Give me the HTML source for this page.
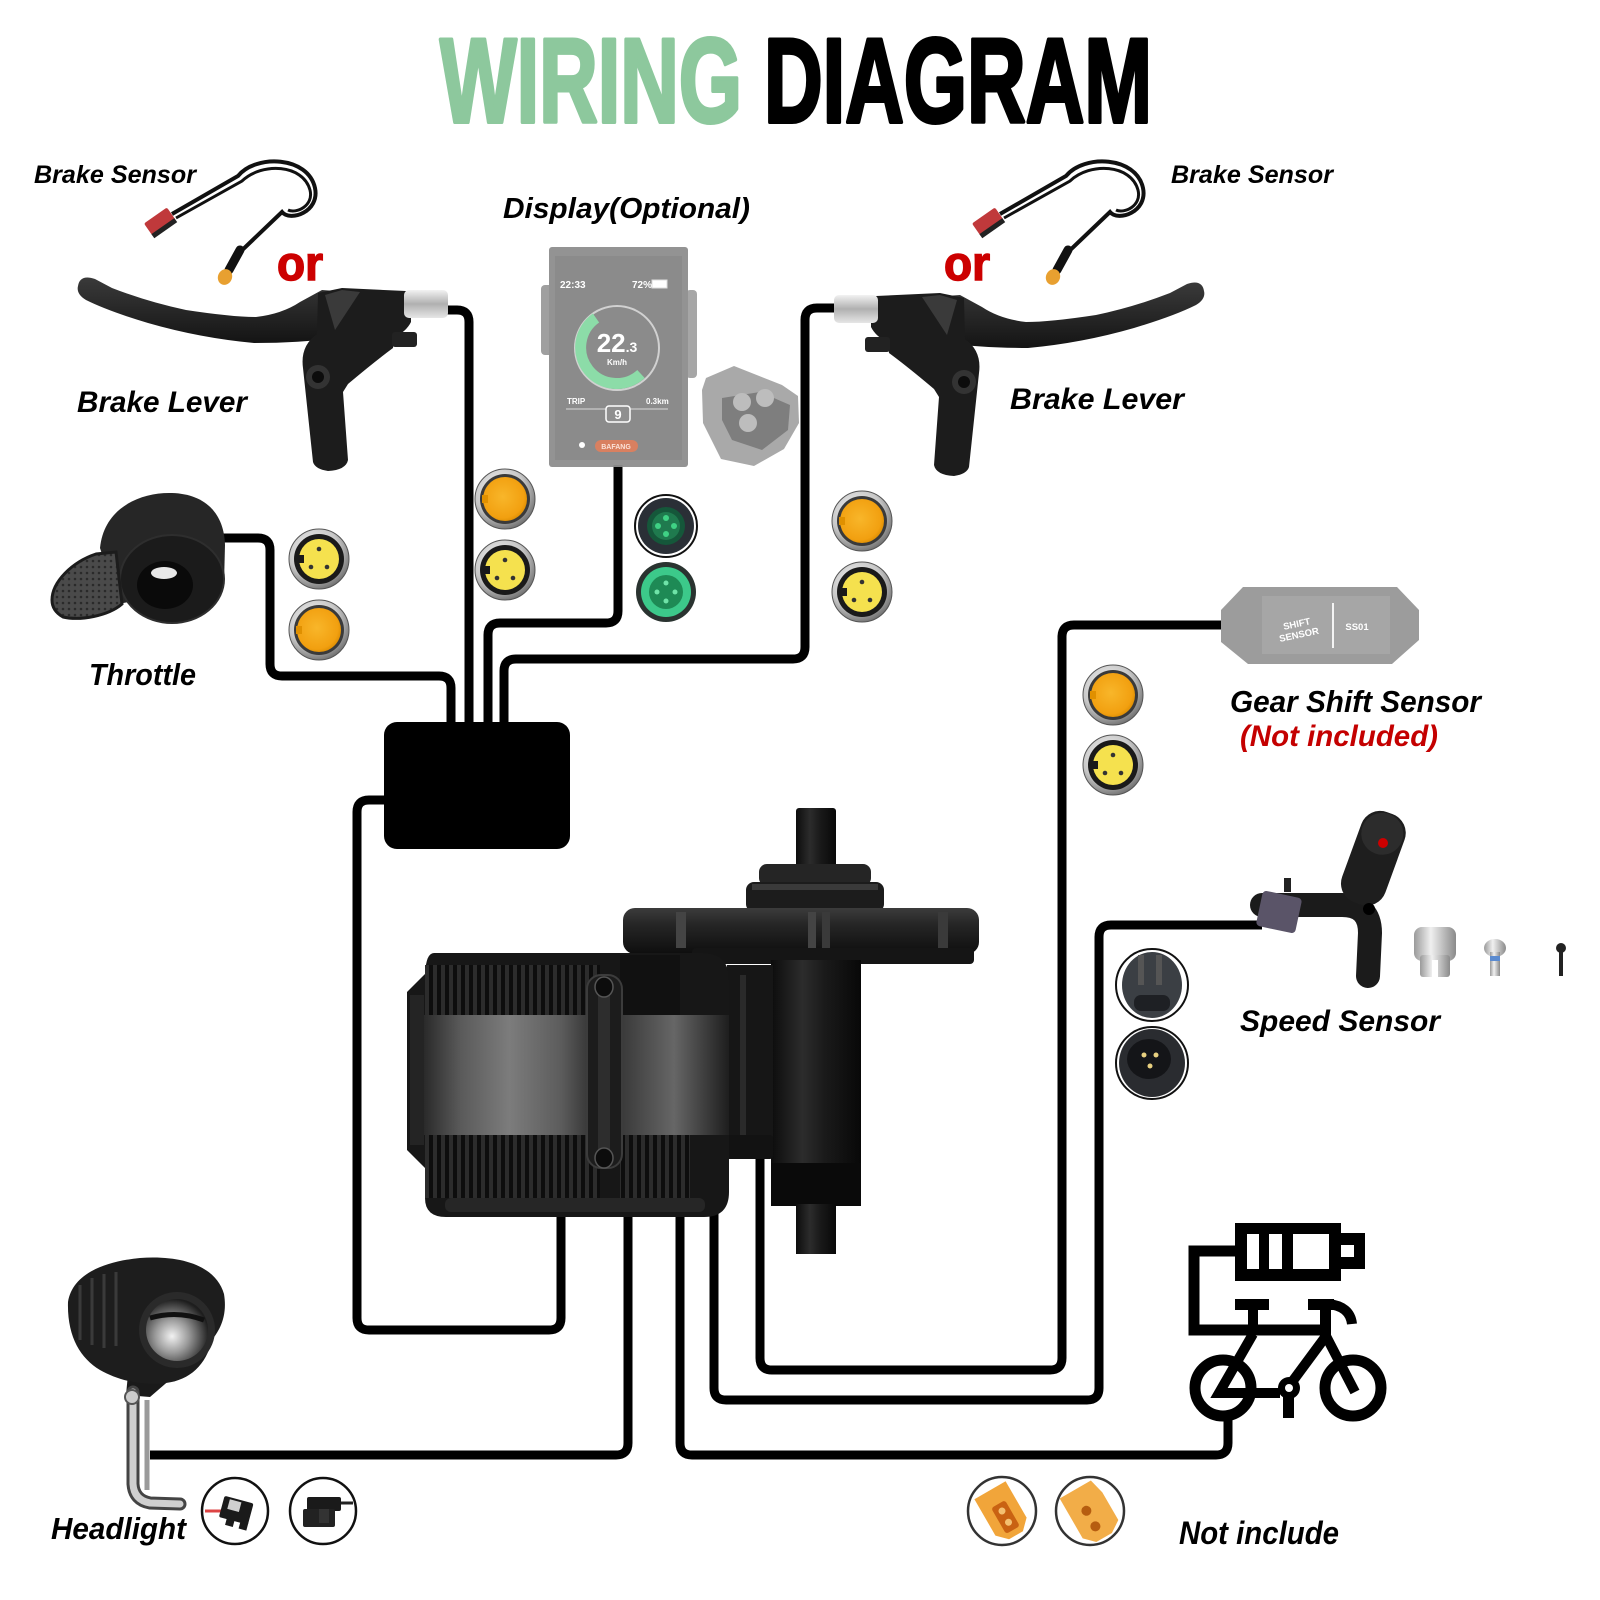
<!DOCTYPE html>
<html>
<head>
<meta charset="utf-8">
<style>
  html,body{margin:0;padding:0;background:#fff;}
  svg{display:block;}
  .lbl{font-family:"Liberation Sans",Arial,sans-serif;font-weight:bold;font-style:italic;}
  .ttl{font-family:"Liberation Sans",Arial,sans-serif;font-weight:bold;}
</style>
</head>
<body>
<svg width="1600" height="1600" viewBox="0 0 1600 1600" xmlns="http://www.w3.org/2000/svg" xmlns:xlink="http://www.w3.org/1999/xlink">
<defs>
  <radialGradient id="silverR" cx="0.4" cy="0.35" r="0.7">
    <stop offset="0" stop-color="#f4f4f4"/>
    <stop offset="0.6" stop-color="#c8c8c8"/>
    <stop offset="1" stop-color="#6a6a6a"/>
  </radialGradient>
  <radialGradient id="orangeR" cx="0.45" cy="0.45" r="0.6">
    <stop offset="0" stop-color="#f8b62a"/>
    <stop offset="0.8" stop-color="#f2a010"/>
    <stop offset="1" stop-color="#d88a00"/>
  </radialGradient>
  <linearGradient id="silverL" x1="0" y1="0" x2="0" y2="1">
    <stop offset="0" stop-color="#f2f2f2"/>
    <stop offset="0.5" stop-color="#b0b0b0"/>
    <stop offset="1" stop-color="#e6e6e6"/>
  </linearGradient>
  <linearGradient id="silverH" x1="0" y1="0" x2="1" y2="0">
    <stop offset="0" stop-color="#9a9a9a"/>
    <stop offset="0.4" stop-color="#f0f0f0"/>
    <stop offset="1" stop-color="#8a8a8a"/>
  </linearGradient>
  <linearGradient id="band" x1="424" y1="0" x2="729" y2="0" gradientUnits="userSpaceOnUse">
    <stop offset="0" stop-color="#2a2a2a"/>
    <stop offset="0.12" stop-color="#5a5a5a"/>
    <stop offset="0.28" stop-color="#7c7c7c"/>
    <stop offset="0.45" stop-color="#5c5c5c"/>
    <stop offset="0.55" stop-color="#333"/>
    <stop offset="0.65" stop-color="#3a3a3a"/>
    <stop offset="0.82" stop-color="#666"/>
    <stop offset="1" stop-color="#1e1e1e"/>
  </linearGradient>
  <linearGradient id="shaftG" x1="0" y1="0" x2="1" y2="0">
    <stop offset="0" stop-color="#0c0c0c"/>
    <stop offset="0.35" stop-color="#2c2c2c"/>
    <stop offset="0.6" stop-color="#1a1a1a"/>
    <stop offset="1" stop-color="#080808"/>
  </linearGradient>
  <linearGradient id="diskG" x1="0" y1="0" x2="0" y2="1">
    <stop offset="0" stop-color="#3c3c3c"/>
    <stop offset="0.35" stop-color="#262626"/>
    <stop offset="1" stop-color="#0e0e0e"/>
  </linearGradient>
  <linearGradient id="leverG" x1="0" y1="0" x2="0" y2="1">
    <stop offset="0" stop-color="#3a3a3a"/>
    <stop offset="1" stop-color="#141414"/>
  </linearGradient>
  <radialGradient id="lensG" cx="0.42" cy="0.6" r="0.6">
    <stop offset="0" stop-color="#f2f2f2"/>
    <stop offset="0.45" stop-color="#9a9a9a"/>
    <stop offset="1" stop-color="#1e1e1e"/>
  </radialGradient>
  <pattern id="ribs" width="8" height="10" patternUnits="userSpaceOnUse">
    <rect width="8" height="10" fill="#0d0d0d"/>
    <rect x="1" width="4" height="10" fill="#2c2c2c"/>
  </pattern>
  <pattern id="dots" width="6" height="6" patternUnits="userSpaceOnUse">
    <rect width="6" height="6" fill="#4a4a4a"/>
    <circle cx="3" cy="3" r="1.3" fill="#2a2a2a"/>
  </pattern>

  <g id="cOr">
    <circle r="30" fill="url(#silverR)" stroke="#555" stroke-width="1"/>
    <circle r="25" fill="#3a3a3a"/>
    <circle r="22" fill="url(#orangeR)"/>
    <rect x="-23" y="-4" width="6" height="8" fill="#e09000"/>
  </g>
  <g id="cYe">
    <circle r="30" fill="url(#silverR)" stroke="#555" stroke-width="1"/>
    <circle r="25" fill="#1a1a1a"/>
    <circle r="20" fill="#f5e14e"/>
    <rect x="-21" y="-4" width="6" height="8" fill="#1a1a1a"/>
    <circle cx="0" cy="-10" r="2.3" fill="#333"/>
    <circle cx="-8" cy="8" r="2.3" fill="#333"/>
    <circle cx="8" cy="8" r="2.3" fill="#333"/>
  </g>
</defs>

<rect width="1600" height="1600" fill="#fff"/>

<!-- TITLE -->
<text class="ttl" x="440" y="122" font-size="120" fill="#8dc89d" stroke="#8dc89d" stroke-width="4" stroke-linejoin="round" textLength="302" lengthAdjust="spacingAndGlyphs">WIRING</text>
<text class="ttl" x="764" y="122" font-size="120" fill="#000" stroke="#000" stroke-width="4" stroke-linejoin="round" textLength="388" lengthAdjust="spacingAndGlyphs">DIAGRAM</text>

<!-- LABELS -->
<text class="lbl" x="34" y="183" font-size="25" textLength="162" lengthAdjust="spacingAndGlyphs">Brake Sensor</text>
<text class="lbl" x="1171" y="183" font-size="25" textLength="162" lengthAdjust="spacingAndGlyphs">Brake Sensor</text>
<text class="lbl" x="503" y="218" font-size="29" textLength="247" lengthAdjust="spacingAndGlyphs">Display(Optional)</text>
<text class="ttl" x="277" y="280" font-size="48" fill="#cc0000" stroke="#cc0000" stroke-width="1.5" textLength="46" lengthAdjust="spacingAndGlyphs">or</text>
<text class="ttl" x="944" y="280" font-size="48" fill="#cc0000" stroke="#cc0000" stroke-width="1.5" textLength="46" lengthAdjust="spacingAndGlyphs">or</text>
<text class="lbl" x="77" y="412" font-size="30" textLength="170" lengthAdjust="spacingAndGlyphs">Brake Lever</text>
<text class="lbl" x="1010" y="409" font-size="30" textLength="174" lengthAdjust="spacingAndGlyphs">Brake Lever</text>
<text class="lbl" x="89" y="685" font-size="31" textLength="107" lengthAdjust="spacingAndGlyphs">Throttle</text>
<text class="lbl" x="1230" y="712" font-size="31" textLength="251" lengthAdjust="spacingAndGlyphs">Gear Shift Sensor</text>
<text class="lbl" x="1240" y="746" font-size="30" fill="#c40000" textLength="198" lengthAdjust="spacingAndGlyphs">(Not included)</text>
<text class="lbl" x="1240" y="1031" font-size="30" textLength="200" lengthAdjust="spacingAndGlyphs">Speed Sensor</text>
<text class="lbl" x="51" y="1539" font-size="31" textLength="135" lengthAdjust="spacingAndGlyphs">Headlight</text>
<text class="lbl" x="1179" y="1544" font-size="32" textLength="160" lengthAdjust="spacingAndGlyphs">Not include</text>

<!-- WIRES -->
<g fill="none" stroke="#000" stroke-width="9" stroke-linejoin="round">
  <path d="M222,538 H258 Q270,538 270,550 V664 Q270,676 282,676 H439 Q451,676 451,688 V724"/>
  <path d="M446,310 H457 Q469,310 469,322 V724"/>
  <path d="M618,465 V611 Q618,623 606,623 H500 Q488,623 488,635 V724"/>
  <path d="M834,308 H817 Q805,308 805,320 V647 Q805,659 793,659 H516 Q504,659 504,671 V724"/>
  <path d="M386,800 H369 Q357,800 357,812 V1318 Q357,1330 369,1330 H549 Q561,1330 561,1318 V1212"/>
  <path d="M628,1212 V1443 Q628,1455 616,1455 H150"/>
  <path d="M680,1212 V1443 Q680,1455 692,1455 H1216 Q1228,1455 1228,1443 V1420"/>
  <path d="M714,1212 V1388 Q714,1400 726,1400 H1087 Q1099,1400 1099,1388 V937 Q1099,925 1111,925 H1262"/>
  <path d="M760,1140 V1358 Q760,1370 772,1370 H1050 Q1062,1370 1062,1358 V637 Q1062,625 1074,625 H1224"/>
</g>

<!-- CONTROL BOX -->
<rect x="384" y="722" width="186" height="127" rx="13" fill="#000"/>

<!-- BRAKE SENSOR LEFT -->
<g id="bsL">
  <path d="M172,214 L238,176 C256,154 308,156 315,188 C320,212 290,222 282,212 L236,256" fill="none" stroke="#111" stroke-width="4"/>
  <path d="M176,218 L242,181 C262,162 303,164 310,190 C314,206 296,214 288,210" fill="none" stroke="#111" stroke-width="3"/>
  <g transform="translate(160,222) rotate(-35)">
    <rect x="-14" y="-8" width="28" height="16" rx="2" fill="#c0393b"/>
    <rect x="-14" y="5" width="28" height="5" fill="#222"/>
  </g>
  <line x1="240" y1="250" x2="229" y2="270" stroke="#111" stroke-width="9" stroke-linecap="round"/>
  <ellipse cx="225" cy="277" rx="7" ry="8" fill="#e8a030" transform="rotate(25 225 277)"/>
</g>
<use href="#bsL" xlink:href="#bsL" transform="translate(828,0)"/>

<!-- LEFT BRAKE LEVER -->
<g id="leverL">
  <path d="M78,286 Q80,274 95,279 L112,288 Q148,302 186,310 Q232,317 256,317 Q282,314 300,302 L322,290 L336,291 L336,338 Q300,343 254,343 Q200,338 148,323 Q108,311 86,300 Q76,294 78,286 Z" fill="url(#leverG)"/>
  <path d="M318,293 L342,288 L406,291 Q411,293 411,301 L411,322 Q406,332 394,337 L393,348 Q374,362 348,384 L343,392 L348,460 Q346,470 328,471 Q315,469 313,462 L303,368 Q300,346 317,334 Z" fill="#1c1c1c"/>
  <path d="M325,295 L342,290 L360,292 L335,330 Z" fill="#3a3a3a"/>
  <rect x="404" y="290" width="44" height="28" rx="5" fill="url(#silverL)"/>
  <rect x="392" y="332" width="25" height="15" rx="3" fill="#222"/>
  <circle cx="318" cy="377" r="12" fill="#333"/>
  <circle cx="318" cy="377" r="6" fill="#0c0c0c"/>
</g>
<use href="#leverL" xlink:href="#leverL" transform="translate(1282,5) scale(-1,1)"/>

<!-- DISPLAY -->
<g opacity="0.95">
  <rect x="541" y="285" width="12" height="70" rx="4" fill="#9a9a9a"/>
  <rect x="686" y="290" width="11" height="88" rx="4" fill="#a2a2a2"/>
  <rect x="549" y="247" width="139" height="220" rx="3" fill="#8e8e8e"/>
  <rect x="555" y="256" width="127" height="204" fill="#858585"/>
  <text x="560" y="288" font-family="Liberation Sans,Arial,sans-serif" font-weight="bold" font-size="10" fill="#fff">22:33</text>
  <text x="632" y="288" font-family="Liberation Sans,Arial,sans-serif" font-weight="bold" font-size="10" fill="#fff">72%</text>
  <rect x="652" y="280" width="15" height="8" fill="#fff" stroke="#ddd"/>
  <circle cx="617" cy="348" r="42" fill="none" stroke="#cfcfcf" stroke-width="2"/>
  <path d="M596,318 A36,36 0 1,0 641,374" fill="none" stroke="#86dba4" stroke-width="11"/>
  <text x="617" y="352" text-anchor="middle" font-family="Liberation Sans,Arial,sans-serif" font-weight="bold" font-size="26" fill="#fff">22<tspan font-size="14">.3</tspan></text>
  <text x="617" y="365" text-anchor="middle" font-family="Liberation Sans,Arial,sans-serif" font-weight="bold" font-size="8" fill="#fff">Km/h</text>
  <text x="567" y="404" font-family="Liberation Sans,Arial,sans-serif" font-weight="bold" font-size="8" fill="#fff">TRIP</text>
  <text x="646" y="404" font-family="Liberation Sans,Arial,sans-serif" font-weight="bold" font-size="8" fill="#fff">0.3km</text>
  <line x1="566" y1="409" x2="668" y2="409" stroke="#d8d8d8" stroke-width="1"/>
  <rect x="606" y="406" width="24" height="16" rx="3" fill="#8a8a8a" stroke="#fff" stroke-width="1.5"/>
  <text x="618" y="419" text-anchor="middle" font-family="Liberation Sans,Arial,sans-serif" font-weight="bold" font-size="13" fill="#fff">9</text>
  <circle cx="582" cy="445" r="3" fill="#fff"/>
  <rect x="595" y="440" width="43" height="12" rx="6" fill="#d77a58"/>
  <text x="616" y="449" text-anchor="middle" font-family="Liberation Sans,Arial,sans-serif" font-weight="bold" font-size="7" fill="#fbe1d6">BAFANG</text>
</g>
<!-- REMOTE -->
<path d="M706,378 L734,366 L782,385 L798,396 L799,423 L784,449 L754,466 L721,459 L703,423 L702,390 Z" fill="#a9a9a9"/>
<path d="M722,398 L760,392 L790,405 L788,430 L762,450 L732,440 L722,420 Z" fill="#7e7e7e"/>
<circle cx="742" cy="402" r="9" fill="#bdbdbd"/>
<circle cx="765" cy="398" r="9" fill="#bdbdbd"/>
<circle cx="748" cy="423" r="9" fill="#bdbdbd"/>

<!-- THROTTLE -->
<path d="M100,548 C104,508 140,492 172,493 C204,494 224,512 225,545 L224,584 L118,604 Z" fill="#262626"/>
<ellipse cx="172" cy="579" rx="52" ry="44" fill="#1b1b1b" stroke="#2e2e2e" stroke-width="2"/>
<ellipse cx="165" cy="585" rx="28" ry="24" fill="#0a0a0a"/>
<ellipse cx="164" cy="573" rx="13" ry="6" fill="#e8e8e8"/>
<path d="M52,600 C52,582 72,562 96,554 L116,552 L122,604 C108,616 80,621 63,617 C56,613 52,607 52,600 Z" fill="url(#dots)" stroke="#1c1c1c" stroke-width="3"/>

<!-- CONNECTORS -->
<use href="#cOr" xlink:href="#cOr" x="505" y="499"/>
<use href="#cYe" xlink:href="#cYe" x="505" y="570"/>
<use href="#cYe" xlink:href="#cYe" x="319" y="559"/>
<use href="#cOr" xlink:href="#cOr" x="319" y="630"/>
<use href="#cOr" xlink:href="#cOr" x="862" y="521"/>
<use href="#cYe" xlink:href="#cYe" x="862" y="592"/>
<use href="#cOr" xlink:href="#cOr" x="1113" y="695"/>
<use href="#cYe" xlink:href="#cYe" x="1113" y="765"/>

<g transform="translate(666,526)">
  <circle r="31" fill="#fff" stroke="#111" stroke-width="2"/>
  <circle r="28" fill="#2a2f36"/>
  <circle r="19" fill="#15573a"/>
  <circle r="14" fill="#1f7a4e"/>
  <circle cx="0" cy="-8" r="3" fill="#3fd184"/>
  <circle cx="-8" cy="0" r="3" fill="#3fd184"/>
  <circle cx="8" cy="0" r="3" fill="#3fd184"/>
  <circle cx="0" cy="8" r="3" fill="#3fd184"/>
</g>
<g transform="translate(666,592)">
  <circle r="30" fill="#2a3330"/>
  <circle r="25" fill="#3cc98a"/>
  <circle r="17" fill="#1e8a55"/>
  <circle cx="0" cy="-9" r="2.5" fill="#6fe3a8"/>
  <circle cx="-9" cy="0" r="2.5" fill="#6fe3a8"/>
  <circle cx="9" cy="0" r="2.5" fill="#6fe3a8"/>
  <circle cx="0" cy="9" r="2.5" fill="#6fe3a8"/>
</g>

<!-- SHIFT SENSOR -->
<path d="M1221,610 L1243,587 L1397,587 L1419,610 L1419,640 L1392,664 L1248,664 L1221,642 Z" fill="#9c9c9c"/>
<rect x="1262" y="596" width="128" height="58" fill="#a6a6a6"/>
<line x1="1333" y1="603" x2="1333" y2="648" stroke="#f4f4f4" stroke-width="2"/>
<g transform="translate(1298,630) rotate(-12)" font-family="Liberation Sans,Arial,sans-serif" font-weight="bold" font-size="9.5" fill="#fff" text-anchor="middle">
  <text x="0" y="-3">SHIFT</text>
  <text x="0" y="8">SENSOR</text>
</g>
<text x="1357" y="630" text-anchor="middle" font-family="Liberation Sans,Arial,sans-serif" font-weight="bold" font-size="9.5" fill="#fff">SS01</text>

<!-- SPEED SENSOR -->
<g>
  <path d="M1262,905 L1342,905 Q1370,905 1370,933 L1368,976" fill="none" stroke="#1b1b1b" stroke-width="24" stroke-linecap="round"/>
  <g transform="translate(1372,862) rotate(20)">
    <rect x="-23" y="-52" width="46" height="96" rx="20" fill="#1e1e1e"/>
    <ellipse cx="0" cy="-30" rx="21" ry="21" fill="#2c2c2c"/>
  </g>
  <circle cx="1383" cy="843" r="5" fill="#c00"/>
  <circle cx="1369" cy="909" r="6" fill="#000"/>
  <rect x="1284" y="878" width="7" height="14" fill="#222"/>
  <g transform="translate(1279,912) rotate(12)">
    <rect x="-20" y="-18" width="40" height="36" rx="4" fill="#5a5468"/>
  </g>
  <rect x="1414" y="927" width="42" height="34" rx="8" fill="url(#silverH)"/>
  <rect x="1420" y="955" width="30" height="22" rx="3" fill="url(#silverH)"/>
  <rect x="1432" y="960" width="6" height="18" fill="#fff"/>
  <ellipse cx="1495" cy="948" rx="11" ry="9" fill="url(#silverH)"/>
  <rect x="1490" y="952" width="10" height="24" fill="url(#silverH)"/>
  <rect x="1490" y="956" width="10" height="5" fill="#5b8bd0"/>
  <circle cx="1561" cy="948" r="5" fill="#222"/>
  <rect x="1559" y="948" width="4" height="28" fill="#222"/>
</g>
<g transform="translate(1152,985)">
  <ellipse rx="36" ry="36" fill="#fff" stroke="#111" stroke-width="2"/>
  <ellipse rx="30" ry="33" fill="#3b3f44"/>
  <rect x="-14" y="-30" width="6" height="30" fill="#555"/>
  <rect x="4" y="-30" width="6" height="30" fill="#555"/>
  <rect x="-18" y="10" width="36" height="16" rx="7" fill="#1e2024"/>
</g>
<g transform="translate(1152,1063)">
  <ellipse rx="36" ry="36" fill="#fff" stroke="#111" stroke-width="2"/>
  <ellipse rx="33" ry="34" fill="#2a2c30"/>
  <ellipse cx="-3" cy="-4" rx="22" ry="20" fill="#141518"/>
  <circle cx="-8" cy="-8" r="2.5" fill="#e8d080"/>
  <circle cx="4" cy="-8" r="2.5" fill="#e8d080"/>
  <circle cx="-2" cy="3" r="2.5" fill="#e8d080"/>
</g>

<!-- MOTOR -->
<g>
  <rect x="796" y="808" width="40" height="62" rx="3" fill="url(#shaftG)"/>
  <rect x="759" y="864" width="112" height="22" rx="8" fill="#252525"/>
  <rect x="746" y="882" width="138" height="30" rx="8" fill="#1c1c1c"/>
  <rect x="752" y="884" width="126" height="6" fill="#3a3a3a"/>
  <rect x="623" y="908" width="356" height="46" rx="12" fill="url(#diskG)"/>
  <rect x="692" y="948" width="282" height="16" rx="4" fill="#151515"/>
  <rect x="676" y="912" width="10" height="36" fill="#444"/>
  <rect x="808" y="912" width="8" height="36" fill="#444"/>
  <rect x="822" y="912" width="8" height="36" fill="#3a3a3a"/>
  <rect x="938" y="912" width="10" height="36" fill="#3a3a3a"/>
  <rect x="771" y="960" width="90" height="246" fill="url(#shaftG)"/>
  <rect x="771" y="1163" width="90" height="43" fill="#0a0a0a"/>
  <rect x="796" y="1204" width="40" height="50" fill="url(#shaftG)"/>
  <rect x="727" y="965" width="46" height="178" fill="#161616"/>
  <rect x="740" y="975" width="6" height="160" fill="#2a2a2a"/>
  <rect x="675" y="1135" width="98" height="24" rx="3" fill="#121212"/>
  <path d="M434,953 H702 Q729,953 729,980 V1192 Q729,1217 704,1217 H446 Q425,1217 425,1198 V1168 L407,1150 V992 L425,974 Q426,953 434,953 Z" fill="#171717"/>
  <rect x="425" y="965" width="175" height="50" fill="url(#ribs)"/>
  <rect x="424" y="1015" width="305" height="120" fill="url(#band)"/>
  <rect x="425" y="1135" width="175" height="63" fill="url(#ribs)"/>
  <rect x="620" y="1135" width="70" height="63" fill="url(#ribs)"/>
  <rect x="620" y="955" width="60" height="60" fill="#111"/>
  <rect x="410" y="995" width="14" height="150" fill="#242424"/>
  <rect x="587" y="975" width="35" height="193" rx="14" fill="#1c1c1c" stroke="#3c3c3c" stroke-width="2"/>
  <rect x="598" y="990" width="12" height="160" fill="#2d2d2d"/>
  <ellipse cx="604" cy="987" rx="9" ry="10" fill="#0c0c0c" stroke="#555" stroke-width="1.5"/>
  <ellipse cx="604" cy="1158" rx="9" ry="10" fill="#0c0c0c" stroke="#555" stroke-width="1.5"/>
  <rect x="445" y="1198" width="260" height="14" rx="6" fill="#262626"/>
</g>

<!-- HEADLIGHT -->
<g>
  <path d="M128,1374 L126,1395 L150,1397 L172,1378 Z" fill="#1a1a1a"/>
  <path d="M133,1392 L133,1484 Q134,1500 150,1503 L180,1504" fill="none" stroke="#444" stroke-width="13" stroke-linecap="round"/>
  <path d="M133,1392 L133,1484 Q134,1500 150,1503 L180,1504" fill="none" stroke="#cfcfcf" stroke-width="7" stroke-linecap="round"/>
  <line x1="147" y1="1400" x2="147" y2="1490" stroke="#9a9a9a" stroke-width="5"/>
  <circle cx="132" cy="1397" r="7" fill="#ccc" stroke="#555" stroke-width="2"/>
  <path d="M68,1302 C72,1276 100,1262 140,1258 C182,1255 216,1266 224,1294 C228,1318 218,1332 212,1340 C206,1365 190,1380 166,1383 C140,1386 118,1380 100,1370 C80,1358 67,1336 68,1302 Z" fill="#1d1d1d"/>
  <line x1="80" y1="1285" x2="80" y2="1340" stroke="#3a3a3a" stroke-width="3"/>
  <line x1="92" y1="1278" x2="92" y2="1345" stroke="#3a3a3a" stroke-width="3"/>
  <line x1="104" y1="1274" x2="104" y2="1348" stroke="#3a3a3a" stroke-width="3"/>
  <line x1="116" y1="1272" x2="116" y2="1346" stroke="#3a3a3a" stroke-width="3"/>
  <circle cx="177" cy="1330" r="38" fill="#2a2a2a"/>
  <circle cx="177" cy="1330" r="31" fill="url(#lensG)"/>
  <path d="M150,1318 Q177,1310 204,1320" fill="none" stroke="#111" stroke-width="5"/>
</g>
<g transform="translate(235,1511)">
  <circle r="33" fill="#fff" stroke="#111" stroke-width="2.5"/>
  <line x1="-30" y1="0" x2="-12" y2="0" stroke="#d44" stroke-width="3"/>
  <g transform="rotate(15)">
    <rect x="-14" y="-12" width="30" height="22" rx="2" fill="#1a1a1a"/>
    <rect x="-8" y="-10" width="12" height="10" fill="#cfcfcf"/>
    <rect x="-6" y="8" width="8" height="8" fill="#1a1a1a"/>
    <rect x="8" y="8" width="8" height="8" fill="#1a1a1a"/>
  </g>
</g>
<g transform="translate(323,1511)">
  <circle r="33" fill="#fff" stroke="#111" stroke-width="2.5"/>
  <rect x="-16" y="-14" width="34" height="14" rx="2" fill="#1a1a1a"/>
  <rect x="-20" y="-2" width="32" height="18" rx="2" fill="#222"/>
  <rect x="-4" y="-2" width="10" height="14" fill="#333"/>
  <line x1="18" y1="-8" x2="30" y2="-8" stroke="#222" stroke-width="3"/>
</g>

<!-- BATTERY / BIKE ICON -->
<g fill="#000">
  <rect x="1235" y="1223" width="106" height="58"/>
  <rect x="1247" y="1234" width="82" height="35" fill="#fff"/>
  <rect x="1259" y="1234" width="10" height="35"/>
  <rect x="1282" y="1234" width="11" height="35"/>
  <rect x="1341" y="1233" width="24" height="36"/>
  <rect x="1341" y="1245" width="13" height="12" fill="#fff"/>
  <rect x="1235" y="1299" width="34" height="11"/>
  <rect x="1248" y="1306" width="10" height="26"/>
  <rect x="1308" y="1299" width="26" height="11"/>
  <rect x="1320" y="1305" width="11" height="32"/>
</g>
<g fill="none" stroke="#000" stroke-width="11">
  <path d="M1236,1251 H1194 V1330 H1327"/>
  <path d="M1328,1304 Q1350,1306 1352,1324" stroke-width="10"/>
  <circle cx="1223" cy="1388" r="28"/>
  <circle cx="1353" cy="1388" r="28"/>
  <path d="M1253,1334 L1219,1393 H1280" stroke-width="10" stroke-linejoin="miter"/>
  <line x1="1326" y1="1336" x2="1292" y2="1382" stroke-width="10"/>
  <line x1="1326" y1="1336" x2="1355" y2="1392" stroke-width="10"/>
</g>
<circle cx="1289" cy="1388" r="11" fill="#000"/>
<circle cx="1289" cy="1388" r="4" fill="#fff"/>
<rect x="1283" y="1396" width="11" height="22" fill="#000"/>

<!-- NOT INCLUDE XT60 connectors -->
<g transform="translate(1002,1511)">
  <circle r="34" fill="#fff" stroke="#333" stroke-width="2.5"/>
  <g transform="rotate(-30)">
    <path d="M-18,-24 L18,-24 L18,18 L8,28 L-8,28 L-18,18 Z" fill="#f1a53a"/>
    <rect x="-8" y="-8" width="16" height="30" rx="3" fill="#c96212"/>
    <circle cx="0" cy="0" r="3.5" fill="#f4c070"/>
    <circle cx="0" cy="13" r="3.5" fill="#f4c070"/>
  </g>
</g>
<g transform="translate(1090,1511)">
  <circle r="34" fill="#fff" stroke="#333" stroke-width="2.5"/>
  <g transform="rotate(-30)">
    <path d="M-20,-26 L16,-26 L20,-10 L20,22 L8,30 L-10,30 L-20,20 Z" fill="#f2ad48"/>
    <circle cx="-3" cy="-2" r="5" fill="#b65d10"/>
    <circle cx="-3" cy="16" r="5" fill="#b65d10"/>
  </g>
</g>

</svg>
</body>
</html>
